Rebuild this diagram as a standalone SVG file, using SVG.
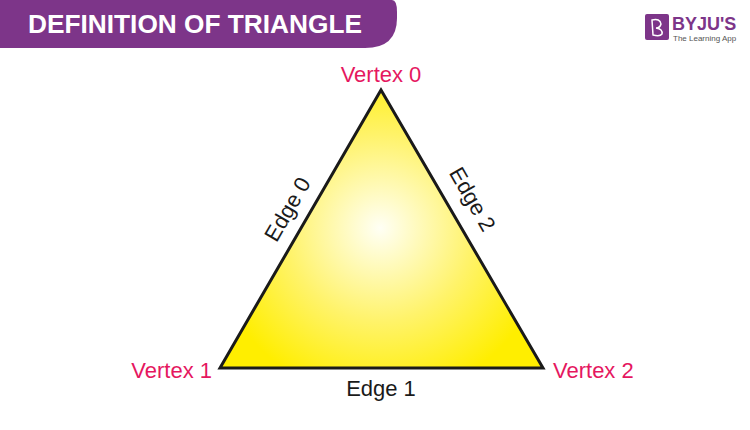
<svg xmlns="http://www.w3.org/2000/svg" width="750" height="430" viewBox="0 0 750 430">
<style>
.v{font-family:"Liberation Sans",Arial,sans-serif;font-size:22px;fill:#E5175F}
.e{font-family:"Liberation Sans",Arial,sans-serif;font-size:22px;fill:#1a1a1a}
</style>
<defs>
<radialGradient id="g" cx="380" cy="228" r="170" gradientUnits="userSpaceOnUse">
<stop offset="0" stop-color="#FFFFF5"/>
<stop offset="0.55" stop-color="#FFF36A"/>
<stop offset="1" stop-color="#FFEE00"/>
</radialGradient>
</defs>
<rect width="750" height="430" fill="#fff"/>
<g id="header">
<path d="M0 0H392Q397 0 397 12V18Q397 48 365 48H0Z" fill="#7D3589"/>
<text x="28" y="33" font-family="Liberation Sans,Arial,sans-serif" font-weight="bold" font-size="26" fill="#fff" textLength="334" lengthAdjust="spacingAndGlyphs">DEFINITION OF TRIANGLE</text>
</g>
<g id="logo">
<rect x="645" y="14" width="24" height="26" rx="2" fill="#7D3589"/>
<path d="M652 20Q660 18 661 24Q660 28 656 28Q663 29 662 34Q660 37 653 35Z" fill="none" stroke="#fff" stroke-width="1.5"/>
<text x="672" y="30" font-family="Liberation Sans,Arial,sans-serif" font-weight="bold" font-size="18" fill="#7D3589">BYJU'S</text>
<text x="673" y="41" font-family="Liberation Sans,Arial,sans-serif" font-size="8" fill="#555">The Learning App</text>
</g>
<g id="triangle">
<polygon points="381,90 220,368 543,368" fill="url(#g)" stroke="#1a1a1a" stroke-width="3" stroke-linejoin="miter"/>
</g>
<g id="v0"><text class="v" x="381" y="82" text-anchor="middle">Vertex 0</text></g>
<g id="v1"><text class="v" x="212" y="378" text-anchor="end">Vertex 1</text></g>
<g id="v2"><text class="v" x="553" y="378">Vertex 2</text></g>
<g id="e0"><text class="e" transform="translate(294,213) rotate(-60)" text-anchor="middle">Edge 0</text></g>
<g id="e2"><text class="e" transform="translate(466,203) rotate(60)" text-anchor="middle">Edge 2</text></g>
<g id="e1"><text class="e" x="381" y="396" text-anchor="middle">Edge 1</text></g>
<g id="connectors"></g>
</svg>
